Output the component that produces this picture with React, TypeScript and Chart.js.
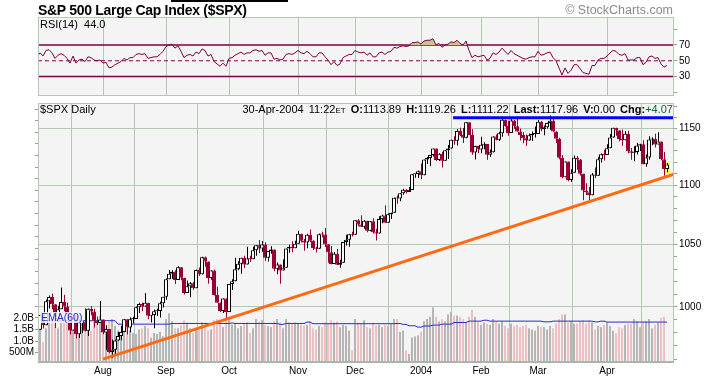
import React, { useEffect, useRef } from 'react';
import { Chart, registerables } from 'chart.js';
Chart.register(...registerables);

// ---------- data ----------
const MONTH_START = [22, 43, 64, 87, 106, 128, 148, 167, 190];
const MONTH_LABELS = ['Aug', 'Sep', 'Oct', 'Nov', 'Dec', '2004', 'Feb', 'Mar', 'Apr'];

const OPEN = [
  974.50, 982.32, 993.75, 985.70, 1004.42, 1007.84, 1002.21, 988.70, 998.14, 1003.86, 1000.42, 994.09, 981.73, 993.32, 978.80, 988.11, 988.61, 981.60, 998.68, 996.52, 989.28, 987.49,
  990.31, 980.15, 982.82, 965.46, 967.08, 974.12, 977.59, 980.59, 990.35, 984.03, 990.51, 990.67, 999.74, 1002.35, 1000.30, 1003.27, 993.06, 993.71, 996.73, 996.79, 1002.84,
  1008.01, 1021.99, 1026.27, 1027.97, 1021.39, 1031.64, 1023.17, 1010.92, 1016.42, 1018.63, 1014.81, 1029.32, 1025.97, 1039.58, 1036.30, 1022.82, 1029.03, 1009.38, 1003.27, 996.85, 1006.58,
  995.97, 1018.22, 1020.24, 1029.85, 1034.35, 1039.25, 1033.78, 1038.73, 1038.06, 1045.35, 1049.48, 1046.76, 1050.07, 1039.32, 1044.68, 1046.03, 1030.36, 1033.77, 1028.91, 1031.13, 1046.79, 1048.11, 1046.94,
  1050.71, 1059.02, 1053.25, 1051.81, 1058.05, 1053.21, 1047.11, 1046.57, 1058.53, 1058.41, 1050.35, 1043.63, 1034.15, 1042.44, 1033.65, 1035.28, 1052.08, 1053.89, 1058.45,
  1058.20, 1070.12, 1066.62, 1064.73, 1069.72, 1061.50, 1069.30, 1060.18, 1059.05, 1071.21, 1074.14, 1068.04, 1075.13, 1076.48, 1089.18, 1088.66, 1092.94, 1096.02, 1094.04, 1095.89, 1109.48, 1109.64,
  1111.92, 1108.48, 1122.22, 1123.67, 1126.33, 1131.92, 1121.86, 1127.23, 1121.22, 1130.52, 1132.05, 1139.83, 1138.77, 1147.62, 1143.94, 1141.55, 1155.37, 1144.05, 1128.48, 1134.11,
  1131.13, 1135.26, 1136.03, 1126.52, 1128.59, 1142.76, 1139.81, 1145.54, 1157.76, 1152.11, 1145.81, 1156.99, 1151.82, 1147.06, 1144.11, 1140.99, 1139.09, 1143.67, 1144.91,
  1144.94, 1155.97, 1149.10, 1151.03, 1154.87, 1156.86, 1147.20, 1140.58, 1123.89, 1106.78, 1120.57, 1104.49, 1110.70, 1123.75, 1122.32, 1109.78, 1095.40, 1093.95, 1091.33, 1109.19, 1108.06, 1122.47, 1127.00,
  1126.21, 1132.17, 1141.81, 1150.57, 1148.16, 1140.53, 1139.32, 1145.20, 1129.44, 1128.17, 1128.84, 1134.61, 1135.82, 1118.15, 1124.09, 1139.93, 1140.60, 1135.53, 1138.11, 1122.41, 1113.89,
];

const HIGH = [
  983.26, 993.78, 995.00, 1005.56, 1008.92, 1010.43, 1002.21, 1000.86, 1015.41, 1009.61, 1003.47, 994.09, 994.25, 993.32, 990.29, 989.86, 998.89, 998.71, 1000.68, 998.64, 992.62, 1004.59,
  990.31, 985.75, 982.82, 974.89, 974.89, 980.57, 985.46, 990.41, 990.35, 991.91, 992.39, 1000.35, 1003.30, 1003.54, 1011.01, 1003.27, 993.71, 997.93, 998.53, 1004.12, 1008.09,
  1022.59, 1029.34, 1029.17, 1029.21, 1032.41, 1031.64, 1023.17, 1020.88, 1019.65, 1019.79, 1029.66, 1031.34, 1040.16, 1040.29, 1036.30, 1029.08, 1029.83, 1015.97, 1003.45, 1006.89, 1006.58,
  1018.22, 1021.87, 1039.31, 1036.48, 1039.25, 1040.84, 1048.28, 1040.84, 1048.22, 1049.49, 1053.79, 1052.94, 1051.89, 1044.69, 1048.57, 1046.03, 1035.44, 1033.77, 1037.75, 1046.79, 1049.83, 1052.81, 1053.09,
  1061.44, 1059.02, 1054.54, 1058.94, 1062.39, 1053.65, 1048.23, 1059.10, 1060.65, 1063.65, 1050.35, 1048.77, 1043.95, 1046.48, 1037.57, 1052.08, 1058.05, 1058.45, 1060.63,
  1070.47, 1071.22, 1074.30, 1070.37, 1069.72, 1069.59, 1071.94, 1063.02, 1073.63, 1074.76, 1082.79, 1075.94, 1076.54, 1089.50, 1091.06, 1092.94, 1096.95, 1096.40, 1098.47, 1109.48, 1109.75, 1112.56,
  1118.85, 1122.22, 1124.46, 1126.33, 1131.92, 1131.92, 1127.85, 1129.07, 1130.75, 1135.00, 1139.83, 1142.93, 1149.21, 1150.51, 1150.31, 1155.38, 1155.37, 1149.14, 1134.39, 1134.17,
  1142.45, 1137.44, 1136.03, 1131.17, 1142.79, 1144.46, 1147.02, 1158.89, 1157.76, 1156.88, 1158.98, 1157.40, 1158.57, 1149.81, 1146.69, 1144.54, 1145.24, 1147.23, 1151.68,
  1157.45, 1156.54, 1152.44, 1154.97, 1161.50, 1159.94, 1147.32, 1141.45, 1125.96, 1120.63, 1120.57, 1113.76, 1125.76, 1125.46, 1122.72, 1109.78, 1101.52, 1098.32, 1110.38, 1115.27, 1124.37, 1127.60, 1130.83,
  1135.67, 1144.81, 1150.57, 1150.57, 1148.16, 1148.97, 1147.29, 1147.78, 1132.52, 1134.08, 1136.80, 1136.18, 1139.26, 1126.75, 1142.77, 1141.92, 1145.08, 1146.56, 1138.11, 1128.80, 1119.26,
];

const LOW = [
  962.10, 982.32, 983.34, 985.70, 998.73, 998.17, 983.63, 988.70, 998.14, 996.67, 989.30, 978.60, 981.71, 975.63, 976.08, 979.79, 981.07, 977.49, 993.59, 984.15, 985.96, 987.49,
  978.86, 966.79, 964.43, 960.84, 963.82, 973.83, 974.21, 980.59, 978.64, 980.36, 987.10, 990.67, 995.30, 996.62, 1000.30, 990.36, 987.91, 983.57, 993.00, 991.75, 999.52,
  1005.73, 1021.99, 1022.19, 1018.19, 1021.39, 1021.14, 1009.74, 1010.92, 1007.71, 1013.59, 1014.81, 1024.53, 1025.75, 1031.89, 1018.30, 1021.48, 1008.93, 1003.26, 996.08, 995.31, 990.36,
  995.97, 1013.38, 1020.24, 1029.15, 1026.27, 1030.92, 1033.78, 1035.74, 1038.06, 1040.84, 1043.15, 1044.04, 1036.57, 1036.13, 1042.59, 1028.39, 1025.89, 1018.32, 1028.91, 1031.13, 1043.35, 1043.82, 1046.94,
  1050.71, 1051.70, 1044.88, 1046.93, 1052.17, 1045.58, 1043.46, 1046.57, 1056.05, 1048.11, 1035.28, 1034.00, 1034.15, 1033.42, 1031.20, 1035.28, 1049.31, 1048.28, 1056.77,
  1058.20, 1065.22, 1064.63, 1063.15, 1060.09, 1060.93, 1059.16, 1053.41, 1059.05, 1067.64, 1068.00, 1068.04, 1071.14, 1076.48, 1084.19, 1086.14, 1091.73, 1092.73, 1094.04, 1095.89, 1106.41, 1106.21,
  1105.08, 1108.48, 1118.44, 1116.45, 1124.91, 1120.90, 1120.90, 1115.19, 1121.22, 1122.76, 1132.05, 1135.40, 1134.62, 1143.01, 1136.85, 1141.00, 1144.05, 1126.50, 1122.38, 1127.73,
  1127.87, 1131.33, 1122.00, 1124.44, 1128.39, 1139.21, 1138.70, 1142.33, 1151.44, 1143.24, 1145.81, 1149.54, 1146.85, 1139.00, 1136.67, 1134.43, 1138.96, 1138.62, 1141.80,
  1144.94, 1147.31, 1143.78, 1149.81, 1148.77, 1146.92, 1136.84, 1122.53, 1105.87, 1106.78, 1103.36, 1102.61, 1110.70, 1113.25, 1108.22, 1087.16, 1091.57, 1087.16, 1091.33, 1106.13, 1108.06, 1119.66, 1121.46,
  1126.20, 1132.17, 1141.64, 1143.30, 1138.41, 1134.52, 1139.32, 1127.70, 1122.15, 1120.75, 1126.90, 1129.84, 1118.09, 1116.03, 1121.95, 1134.81, 1132.91, 1135.53, 1121.70, 1108.04, 1111.22,
];

const CLOSE = [
  982.32, 993.75, 985.70, 1004.42, 1007.84, 1002.21, 988.70, 998.14, 1003.86, 1000.42, 994.09, 981.73, 993.32, 978.80, 988.11, 988.61, 981.60, 998.68, 996.52, 989.28, 987.49, 990.31,
  980.15, 982.82, 965.46, 967.08, 974.12, 977.59, 980.59, 990.35, 984.03, 990.51, 990.67, 999.74, 1002.35, 1000.30, 1003.27, 993.06, 993.71, 996.73, 996.79, 1002.84, 1008.01,
  1021.99, 1026.27, 1027.97, 1021.39, 1031.64, 1023.17, 1010.92, 1016.42, 1018.63, 1014.81, 1029.32, 1025.97, 1039.58, 1036.30, 1022.82, 1029.03, 1009.38, 1003.27, 996.85, 1006.58, 995.97,
  1018.22, 1020.24, 1029.85, 1034.35, 1039.25, 1033.78, 1038.73, 1038.06, 1045.35, 1049.48, 1046.76, 1050.07, 1039.32, 1044.68, 1046.03, 1030.36, 1033.77, 1028.91, 1031.13, 1046.79, 1048.11, 1046.94, 1050.71,
  1059.02, 1053.25, 1051.81, 1058.05, 1053.21, 1047.11, 1046.57, 1058.53, 1058.41, 1050.35, 1043.63, 1034.15, 1042.44, 1033.65, 1035.28, 1052.08, 1053.89, 1058.45, 1058.20,
  1070.12, 1066.62, 1064.73, 1069.72, 1061.50, 1069.30, 1060.18, 1059.05, 1071.21, 1074.14, 1068.04, 1075.13, 1076.48, 1089.18, 1088.66, 1092.94, 1096.02, 1094.04, 1095.89, 1109.48, 1109.64, 1111.92,
  1108.48, 1122.22, 1123.67, 1126.33, 1131.92, 1121.86, 1127.23, 1121.22, 1130.52, 1132.05, 1139.83, 1138.77, 1147.62, 1143.94, 1141.55, 1155.37, 1144.05, 1128.48, 1134.11, 1131.13,
  1135.26, 1136.03, 1126.52, 1128.59, 1142.76, 1139.81, 1145.54, 1157.76, 1152.11, 1145.81, 1156.99, 1151.82, 1147.06, 1144.11, 1140.99, 1139.09, 1143.67, 1144.91, 1144.94,
  1155.97, 1149.10, 1151.03, 1154.87, 1156.86, 1147.20, 1140.58, 1123.89, 1106.78, 1120.57, 1104.49, 1110.70, 1123.75, 1122.32, 1109.78, 1095.40, 1093.95, 1091.33, 1109.19, 1108.06, 1122.47, 1127.00, 1126.21,
  1132.17, 1141.81, 1150.57, 1148.16, 1140.53, 1139.32, 1145.20, 1129.44, 1128.17, 1128.84, 1134.61, 1135.82, 1118.15, 1124.09, 1139.93, 1140.60, 1135.53, 1138.11, 1122.41, 1113.89, 1117.96,
];

// volume in billions of shares
const VOLUME = [
  1.70, 1.60, 0.95, 1.55, 1.95, 2.00, 1.85, 1.55, 1.90, 2.05, 1.95, 1.85, 1.80, 1.60, 1.95, 1.80, 1.75, 1.55, 1.45, 1.85, 1.80, 2.10,
  1.70, 1.55, 1.85, 1.95, 1.65, 1.45, 1.30, 1.50, 1.55, 1.45, 1.35, 1.30, 1.50, 1.55, 1.65, 1.55, 1.15, 1.35, 1.30, 1.40, 1.20,
  1.95, 2.20, 1.85, 1.55, 1.55, 1.70, 1.90, 1.80, 1.55, 1.35, 1.55, 1.50, 1.80, 1.75, 1.45, 1.50, 1.90, 1.95, 1.80, 1.60, 2.00,
  2.05, 1.70, 1.75, 1.55, 1.65, 1.75, 1.80, 1.35, 1.55, 1.95, 1.85, 1.90, 1.70, 1.65, 1.60, 1.85, 1.95, 1.80, 1.55, 1.95, 1.80, 1.75, 1.80,
  1.75, 1.70, 1.65, 1.70, 1.85, 1.55, 1.50, 1.65, 1.60, 1.80, 1.75, 1.90, 1.80, 1.85, 1.60, 1.70, 1.65, 1.45, 0.60,
  1.95, 1.80, 1.75, 1.90, 1.60, 1.55, 1.80, 1.65, 1.70, 1.60, 1.70, 1.65, 1.75, 1.95, 1.95, 1.40, 1.45, 0.60, 0.45, 1.15, 1.20, 1.25,
  1.40, 1.85, 1.95, 2.05, 2.45, 2.05, 1.85, 1.95, 1.85, 2.15, 2.25, 2.10, 2.10, 2.05, 1.95, 1.80, 2.05, 2.35, 2.05, 1.85,
  1.70, 1.80, 1.75, 1.70, 1.95, 1.85, 1.75, 1.85, 1.65, 1.55, 1.75, 1.65, 1.70, 1.60, 1.65, 1.70, 1.55, 1.50, 1.45,
  1.65, 1.60, 1.60, 1.50, 1.65, 1.55, 1.75, 1.95, 2.15, 2.15, 1.80, 1.85, 1.75, 1.75, 1.85, 1.90, 1.75, 1.90, 1.80, 1.50, 1.65, 1.60, 1.70,
  1.80, 1.65, 1.45, 1.35, 1.60, 1.55, 1.70, 1.75, 1.75, 1.95, 1.85, 1.60, 1.80, 1.85, 1.95, 1.55, 1.70, 1.80, 2.00, 2.05, 0,
];

const VOL_EMA60 = [
  1.88, 1.88, 1.88, 1.88, 1.88, 1.88, 1.88, 1.88, 1.88, 1.88, 1.88, 1.88, 1.88, 1.88, 1.88, 1.88, 1.88, 1.88, 1.88, 1.88, 1.88, 1.88,
  1.88, 1.88, 1.88, 1.88, 1.88, 1.73, 1.73, 1.73, 1.73, 1.73, 1.73, 1.73, 1.73, 1.73, 1.73, 1.73, 1.73, 1.73, 1.73, 1.73, 1.73,
  1.73, 1.73, 1.76, 1.76, 1.76, 1.76, 1.76, 1.76, 1.76, 1.76, 1.76, 1.76, 1.76, 1.76, 1.76, 1.76, 1.76, 1.76, 1.76, 1.76, 1.76,
  1.76, 1.78, 1.76, 1.76, 1.76, 1.76, 1.76, 1.76, 1.76, 1.76, 1.76, 1.76, 1.76, 1.76, 1.76, 1.76, 1.76, 1.72, 1.72, 1.76, 1.76, 1.76, 1.76,
  1.76, 1.76, 1.76, 1.82, 1.82, 1.75, 1.75, 1.75, 1.75, 1.75, 1.75, 1.75, 1.75, 1.75, 1.75, 1.75, 1.75, 1.75, 1.75,
  1.75, 1.75, 1.75, 1.75, 1.75, 1.75, 1.75, 1.75, 1.75, 1.75, 1.75, 1.75, 1.75, 1.75, 1.76, 1.76, 1.72, 1.72, 1.66, 1.66, 1.66, 1.60,
  1.60, 1.65, 1.65, 1.65, 1.69, 1.69, 1.69, 1.73, 1.73, 1.73, 1.73, 1.80, 1.80, 1.80, 1.80, 1.80, 1.86, 1.86, 1.86, 1.86,
  1.86, 1.90, 1.90, 1.86, 1.86, 1.86, 1.86, 1.86, 1.86, 1.86, 1.86, 1.86, 1.86, 1.86, 1.86, 1.86, 1.86, 1.86, 1.86,
  1.86, 1.86, 1.83, 1.83, 1.83, 1.86, 1.86, 1.86, 1.86, 1.86, 1.86, 1.86, 1.86, 1.86, 1.86, 1.86, 1.86, 1.86, 1.86, 1.83, 1.83, 1.86, 1.86,
  1.82, 1.82, 1.82, 1.82, 1.82, 1.82, 1.82, 1.82, 1.82, 1.82, 1.82, 1.82, 1.82, 1.82, 1.82, 1.82, 1.82, 1.82, 1.82, 1.82, 1.82,
];

const RSI14 = [
  55, 60, 56, 63, 64, 60, 53, 57, 59, 57, 53, 47, 56, 47, 51, 52, 49, 55, 54, 51, 50, 51,
  47, 48, 41, 42, 45, 47, 49, 53, 51, 54, 54, 58, 59, 58, 59, 53, 54, 55, 55, 58, 62,
  68, 70, 71, 66, 69, 62, 54, 57, 58, 56, 61, 59, 65, 63, 56, 58, 49, 46, 43, 47, 43,
  53, 54, 57, 59, 61, 58, 60, 60, 63, 64, 62, 63, 57, 60, 60, 52, 53, 51, 52, 58, 59, 58, 60,
  63, 60, 59, 62, 59, 55, 55, 60, 60, 55, 51, 45, 49, 44, 46, 54, 56, 58, 58,
  63, 61, 60, 61, 57, 60, 55, 55, 60, 61, 58, 61, 62, 67, 66, 68, 69, 68, 69, 73, 73, 74,
  71, 75, 76, 76, 78, 70, 72, 67, 70, 71, 74, 73, 76, 72, 70, 75, 63, 54, 57, 55,
  56, 57, 51, 53, 60, 58, 61, 66, 62, 58, 63, 59, 57, 55, 53, 52, 54, 55, 55,
  62, 57, 58, 60, 61, 54, 50, 41, 32, 41, 34, 38, 45, 45, 40, 35, 34, 33, 44, 44, 51, 53, 53,
  56, 60, 63, 62, 58, 57, 59, 51, 51, 51, 54, 54, 45, 48, 55, 56, 53, 54, 46, 42, 44,
];

const RSI_LEVELS = [70, 50, 30];
const RSI_TICKS = [10, 30, 50, 70, 90];
const PRICE_TICKS = [960, 970, 980, 990, 1000, 1010, 1020, 1030, 1040, 1050, 1060, 1070, 1080, 1090, 1100, 1110, 1120, 1130, 1140, 1150, 1160, 1170];
const VOL_TICKS = [0.5, 1, 1.5, 2, 2.5, 3, 3.5, 4, 4.5, 5, 5.5, 6, 6.5, 7, 7.5, 8, 8.5, 9, 9.5, 10, 10.5, 11];
const SUPPORT_LINE = [{ bar: 22, price: 960 }, { bar: 212.33, price: 1109.5 }];
const RESISTANCE_LINE = [{ bar: 138.7, price: 1159.5 }, { bar: 212.33, price: 1159.5 }];
const LAST_BAR_BOX = [1109.7, 1119.6];

// ---------- styling ----------
const X_MIN = 0.3333;
const X_MAX = 212.3333;
const WICK_SHIFT = 1 / 6; // half a pixel, keeps 1px wicks crisp
const FONT = "'Liberation Sans', Arial, Helvetica, sans-serif";
const GRID = '#b4c9b2';
const PANEL_BG = '#f4f4f4';
const RED = '#990033';
const RSI_COLOR = '#800040';

const panelPlugin = {
  id: 'panel',
  beforeDraw(chart: any, _a: any, opts: any) {
    const { ctx, chartArea: a } = chart;
    ctx.save();
    ctx.fillStyle = opts.bg;
    ctx.fillRect(a.left, a.top, a.right - a.left, a.bottom - a.top);
    ctx.restore();
  },
  afterDraw(chart: any, _a: any, opts: any) {
    const { ctx, chartArea: a } = chart;
    ctx.save();
    ctx.strokeStyle = opts.border;
    ctx.lineWidth = 1;
    ctx.strokeRect(Math.round(a.left) + 0.5, Math.round(a.top) + 0.5, Math.round(a.right - a.left) - 1, Math.round(a.bottom - a.top) - 1);
    if (opts.bottomWidth) {
      ctx.fillStyle = opts.bottomColor;
      ctx.fillRect(a.left, Math.round(a.bottom) - opts.bottomWidth, a.right - a.left, opts.bottomWidth);
    }
    ctx.restore();
  },
};

const xScale = (showLabels: boolean) => ({
  type: 'linear',
  min: X_MIN,
  max: X_MAX,
  bounds: 'data',
  offset: false,
  afterBuildTicks: (s: any) => { s.ticks = MONTH_START.map((v) => ({ value: v })); },
  afterFit: (s: any) => { s.height = showLabels ? 13 : 0; },
  ticks: {
    display: showLabels,
    autoSkip: false,
    maxRotation: 0,
    padding: 2,
    font: { size: 10, family: FONT },
    color: '#000',
    callback: (v: number) => { const k = MONTH_START.indexOf(v); return k >= 0 ? MONTH_LABELS[k] : ''; },
  },
  grid: { color: GRID, drawTicks: false, lineWidth: 1 },
  border: { display: false },
});

export default function App() {
  const rsiRef = useRef<HTMLCanvasElement>(null);
  const priceRef = useRef<HTMLCanvasElement>(null);

  useEffect(() => {
    const idx = CLOSE.map((_, i) => i);
    const up = CLOSE.map((c, i) => c >= OPEN[i]);
    const downDay = CLOSE.map((c, i) => c < (i === 0 ? OPEN[0] : CLOSE[i - 1]));

    const rsiChart = new Chart(rsiRef.current as HTMLCanvasElement, {
      type: 'line',
      data: {
        datasets: [
          {
            data: idx.map((i) => ({ x: i, y: RSI14[i] })),
            borderColor: RSI_COLOR,
            borderWidth: 1,
            pointRadius: 0,
            tension: 0,
            fill: { target: { value: 70 }, above: '#cbc38f', below: 'rgba(0,0,0,0)' },
            clip: 0,
            order: 1,
          },
          ...RSI_LEVELS.map((lv) => ({
            data: [{ x: X_MIN, y: lv }, { x: X_MAX, y: lv }],
            borderColor: RSI_COLOR,
            borderWidth: lv === 50 ? 1 : 1.6,
            borderDash: lv === 50 ? [4, 3] : [],
            pointRadius: 0,
            fill: false,
            order: 2,
          })),
        ],
      } as any,
      options: {
        responsive: false,
        animation: false,
        devicePixelRatio: 1,
        events: [],
        layout: { padding: { left: 38, top: 17, right: 0, bottom: 3 } },
        plugins: {
          legend: { display: false },
          tooltip: { enabled: false },
          panel: { bg: PANEL_BG, border: GRID },
        } as any,
        scales: {
          x: xScale(false) as any,
          y: {
            type: 'linear',
            position: 'right',
            min: 5.4,
            max: 105.4,
            bounds: 'data',
            afterBuildTicks: (s: any) => { s.ticks = RSI_TICKS.map((v) => ({ value: v })); },
            afterFit: (s: any) => { s.width = 34; },
            ticks: {
              autoSkip: false,
              padding: 2,
              font: { size: 10, family: FONT },
              color: '#000',
              callback: (v: number) => (RSI_LEVELS.includes(v) ? String(v) : ''),
            },
            grid: { drawOnChartArea: false, tickLength: 3, tickColor: '#9a9a9a' },
            border: { display: false },
          } as any,
        },
      },
      plugins: [panelPlugin as any],
    });

    const priceChart = new Chart(priceRef.current as HTMLCanvasElement, {
      type: 'bar',
      data: {
        datasets: [
          {
            type: 'bar',
            yAxisID: 'yVol',
            data: idx.map((i) => ({ x: i, y: VOLUME[i] })),
            backgroundColor: downDay.map((d) => (d ? '#efc0c3' : '#b5b5b5')),
            barThickness: 2,
            grouped: false,
            inflateAmount: 0,
            clip: 0,
            order: 10,
          },
          {
            type: 'line',
            yAxisID: 'yVol',
            data: idx.map((i) => ({ x: i, y: VOL_EMA60[i] })),
            borderColor: '#2b2bd0',
            borderWidth: 1,
            pointRadius: 0,
            clip: 0,
            order: 9,
          },
          {
            type: 'bar',
            yAxisID: 'y',
            data: [{ x: CLOSE.length - 1, y: LAST_BAR_BOX }],
            backgroundColor: '#ffff33',
            barThickness: 6,
            grouped: false,
            inflateAmount: 0,
            order: 8,
          },
          {
            type: 'bar',
            yAxisID: 'y',
            data: idx.map((i) => ({ x: i + WICK_SHIFT, y: [LOW[i], HIGH[i]] })),
            backgroundColor: up.map((u) => (u ? '#000000' : RED)),
            barThickness: 1,
            grouped: false,
            inflateAmount: 0,
            clip: 0,
            order: 7,
          },
          {
            type: 'bar',
            yAxisID: 'y',
            data: idx.map((i) => ({ x: i, y: [OPEN[i], CLOSE[i]] })),
            backgroundColor: up.map((u) => (u ? '#ffffff' : RED)),
            borderColor: up.map((u) => (u ? '#000000' : RED)),
            borderWidth: 1,
            borderSkipped: false,
            barThickness: 4,
            minBarLength: 1,
            grouped: false,
            inflateAmount: 0,
            clip: 0,
            order: 6,
          },
          {
            type: 'line',
            yAxisID: 'y',
            data: SUPPORT_LINE.map((p) => ({ x: p.bar, y: p.price })),
            borderColor: '#ff6a13',
            borderWidth: 3,
            pointRadius: 0,
            order: 1,
          },
          {
            type: 'line',
            yAxisID: 'y',
            data: RESISTANCE_LINE.map((p) => ({ x: p.bar, y: p.price })),
            borderColor: '#0000ff',
            borderWidth: 3,
            pointRadius: 0,
            order: 1,
          },
        ],
      } as any,
      options: {
        responsive: false,
        animation: false,
        devicePixelRatio: 1,
        events: [],
        layout: { padding: { left: 0, top: 103, right: 0, bottom: 0 } },
        plugins: {
          legend: { display: false },
          tooltip: { enabled: false },
          panel: { bg: PANEL_BG, border: GRID, bottomWidth: 2, bottomColor: '#a9b7a8' },
        } as any,
        scales: {
          x: xScale(true) as any,
          y: {
            type: 'logarithmic',
            position: 'right',
            min: 957.1,
            max: 1173.0,
            bounds: 'data',
            afterBuildTicks: (s: any) => { s.ticks = PRICE_TICKS.map((v) => ({ value: v })); },
            afterFit: (s: any) => { s.width = 34; },
            ticks: {
              autoSkip: false,
              padding: 2,
              font: { size: 10, family: FONT },
              color: '#000',
              callback: (v: number) => (v % 50 === 0 ? String(v) : ''),
            },
            grid: {
              color: (c: any) => (c.tick && c.tick.value % 50 === 0 ? GRID : 'rgba(0,0,0,0)'),
              tickColor: '#9a9a9a',
              tickLength: 3,
            },
            border: { display: false },
          } as any,
          yVol: {
            type: 'linear',
            position: 'left',
            min: 0.056,
            max: 11.26,
            bounds: 'data',
            afterBuildTicks: (s: any) => { s.ticks = VOL_TICKS.map((v) => ({ value: v })); },
            afterFit: (s: any) => { s.width = 38; },
            ticks: {
              autoSkip: false,
              padding: 1,
              font: { size: 10, family: FONT },
              color: '#000',
              callback: (v: number) => (v > 2 ? '' : v < 1 ? `${Math.round(v * 1000)}M` : `${v.toFixed(1)}B`),
            },
            grid: { drawOnChartArea: false, tickColor: '#9a9a9a', tickLength: 3 },
            border: { display: false },
          } as any,
        },
      },
      plugins: [panelPlugin as any],
    });

    return () => {
      rsiChart.destroy();
      priceChart.destroy();
    };
  }, []);

  const last = CLOSE.length - 1;
  const chg = CLOSE[last] - CLOSE[last - 1];
  const text: React.CSSProperties = { position: 'absolute', fontFamily: FONT, whiteSpace: 'nowrap', lineHeight: 1, color: '#000' };

  return (
    <div style={{ position: 'absolute', left: 0, top: 0, width: 708, height: 376, background: '#fff', overflow: 'hidden' }}>
      <canvas ref={rsiRef} width={708} height={104} style={{ position: 'absolute', left: 0, top: 0, width: 708, height: 104 }} />
      <canvas ref={priceRef} width={708} height={376} style={{ position: 'absolute', left: 0, top: 0, width: 708, height: 376 }} />
      <div style={{ position: 'absolute', left: 171, top: 0, width: 117, height: 2, background: '#000' }} />
      <div style={{ ...text, left: 38, top: 3, fontSize: 14, fontWeight: 'bold', letterSpacing: '-0.3px' }}>S&amp;P 500 Large Cap Index ($SPX)</div>
      <div style={{ ...text, right: 35, top: 4, fontSize: 12.5, color: '#8a8a8a' }}>© StockCharts.com</div>
      <div style={{ ...text, left: 40, top: 19, fontSize: 11 }}>RSI(14)&nbsp; {RSI14[last].toFixed(1)}</div>
      <div style={{ ...text, left: 40, top: 104, fontSize: 11 }}>$SPX Daily</div>
      <div style={{ ...text, right: 35, top: 104, fontSize: 11, wordSpacing: '2px' }}>
        30-Apr-2004 11:22<span style={{ fontSize: 8 }}>ET</span>&nbsp;
        <b>O:</b>{OPEN[last].toFixed(2)} <b>H:</b>{HIGH[last].toFixed(2)} <b>L:</b>{LOW[last].toFixed(2)}{' '}
        <b>Last:</b>{CLOSE[last].toFixed(2)} <b>V:</b>{VOLUME[last].toFixed(2)} <b>Chg:</b>
        <span style={{ color: '#006b3c' }}>{chg >= 0 ? '+' : ''}{chg.toFixed(2)}</span>
      </div>
      <div style={{ ...text, left: 40, top: 312, fontSize: 10.5, color: '#2b2bd0', background: 'rgba(244,244,244,0.85)', padding: '0 1px' }}>EMA(60)</div>
    </div>
  );
}
